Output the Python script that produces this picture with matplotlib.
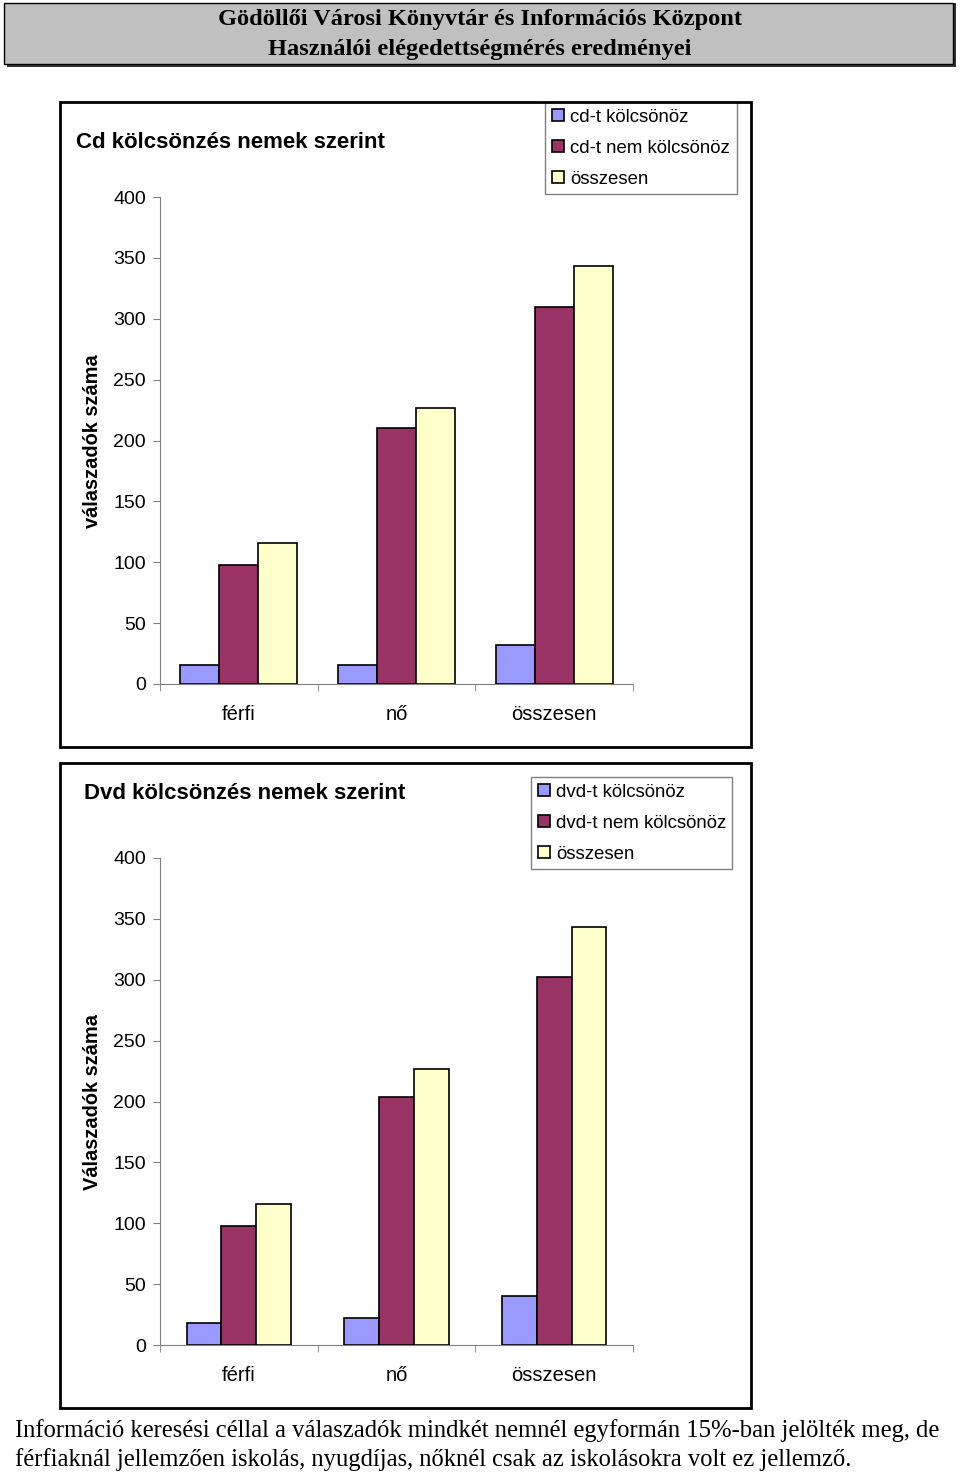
import matplotlib
matplotlib.use("Agg")
import matplotlib.pyplot as plt
import numpy as np
from matplotlib.patches import Rectangle

W, H = 960, 1475

categories = ["férfi", "nő", "összesen"]

# Cd chart
cd_series = ["cd-t kölcsönöz", "cd-t nem kölcsönöz", "összesen"]
cd_kolcsonoz = [16, 16, 32]
cd_nem = [98, 210, 310]
cd_osszes = [116, 227, 343]

# Dvd chart
dvd_series = ["dvd-t kölcsönöz", "dvd-t nem kölcsönöz", "összesen"]
dvd_kolcsonoz = [18, 22, 40]
dvd_nem = [98, 204, 302]
dvd_osszes = [116, 227, 343]

yticks = [0, 50, 100, 150, 200, 250, 300, 350, 400]
colors = ["#9999FF", "#993366", "#FFFFCC"]
gray = "#808080"

sans = ["Liberation Sans", "DejaVu Sans"]
serif = ["Liberation Serif", "DejaVu Serif"]


def fx(x):
    return x / W


def fy(y):
    return 1 - y / H


fig = plt.figure(figsize=(W / 100, H / 100), dpi=100)

# header box with shadow
fig.patches.append(Rectangle((fx(7), fy(67)), fx(949), 64 / H, transform=fig.transFigure,
                             facecolor="#333333", edgecolor="none"))
fig.patches.append(Rectangle((fx(4), fy(64)), fx(949), 61 / H, transform=fig.transFigure,
                             facecolor="#C0C0C0", edgecolor="black", linewidth=1))
fig.text(fx(480), fy(20), "Gödöllői Városi Könyvtár és Információs Központ", ha="center", va="center",
         family=serif, fontweight="bold", fontsize=17.6)
fig.text(fx(480), fy(49), "Használói elégedettségmérés eredményei", ha="center", va="center",
         family=serif, fontweight="bold", fontsize=17.6)


def chart(frame_top, title, title_x, title_y, ylabel, series, data, bar_w, leg_box):
    fig.patches.append(Rectangle((fx(60), fy(frame_top + 645)), fx(691), 645 / H,
                                 transform=fig.transFigure, facecolor="none",
                                 edgecolor="black", linewidth=2))
    top = frame_top + 95
    ax = fig.add_axes([fx(160), fy(top + 487), fx(473), 487 / H])
    x = np.arange(len(categories))
    for i, (vals, c, lab) in enumerate(zip(data, colors, series)):
        ax.bar(x + (i - 1) * bar_w, vals, bar_w, color=c, edgecolor="black",
               linewidth=1.2, label=lab)
    ax.set_xlim(-0.5, 2.5)
    ax.set_ylim(0, 400)
    ax.set_yticks(yticks)
    ax.set_yticklabels([str(v) for v in yticks], family=sans, fontsize=14)
    ax.set_xticks(x)
    ax.set_xticklabels(categories, family=sans, fontsize=14.5)
    ax.set_xticks([-0.5, 0.5, 1.5, 2.5], minor=True)
    ax.tick_params(axis="x", which="major", length=0, pad=15)
    ax.tick_params(axis="x", which="minor", length=5, color=gray, direction="out")
    ax.tick_params(axis="y", length=5, color=gray, pad=5)
    for s in ["top", "right"]:
        ax.spines[s].set_visible(False)
    for s in ["left", "bottom"]:
        ax.spines[s].set_color(gray)
    fig.text(fx(title_x), fy(title_y), title, ha="left", va="center",
             family=sans, fontweight="bold", fontsize=16)
    fig.text(fx(92), fy(frame_top + 339), ylabel, rotation=90, ha="center", va="center",
             family=sans, fontweight="bold", fontsize=14.4)
    lx0, ly0, lx1, ly1 = leg_box
    leg = ax.legend(loc="upper left", bbox_to_anchor=(fx(lx0), fy(ly1), fx(lx1 - lx0), (ly1 - ly0) / H),
                    bbox_transform=fig.transFigure, mode="expand", fancybox=False,
                    edgecolor=gray, framealpha=1, prop={"family": sans, "size": 13.4},
                    handlelength=0.65, handleheight=0.65, handletextpad=0.35,
                    labelspacing=0.76, borderpad=0.35, borderaxespad=0)
    leg.get_frame().set_linewidth(1)
    return ax


chart(102, "Cd kölcsönzés nemek szerint", 76, 142, "válaszadók száma", cd_series,
      [cd_kolcsonoz, cd_nem, cd_osszes], 0.247, (545, 102, 737, 193))
chart(763, "Dvd kölcsönzés nemek szerint", 84, 794, "Válaszadók száma", dvd_series,
      [dvd_kolcsonoz, dvd_nem, dvd_osszes], 0.22, (531, 777, 732, 868))

fig.text(fx(15), fy(1431),
         "Információ keresési céllal a válaszadók mindkét nemnél egyformán 15%-ban jelölték meg, de",
         ha="left", va="center", family=serif, fontsize=17.7)
fig.text(fx(15), fy(1460),
         "férfiaknál jellemzően iskolás, nyugdíjas, nőknél csak az iskolásokra volt ez jellemző.",
         ha="left", va="center", family=serif, fontsize=17.7)

fig.savefig("out.png", dpi=100)
